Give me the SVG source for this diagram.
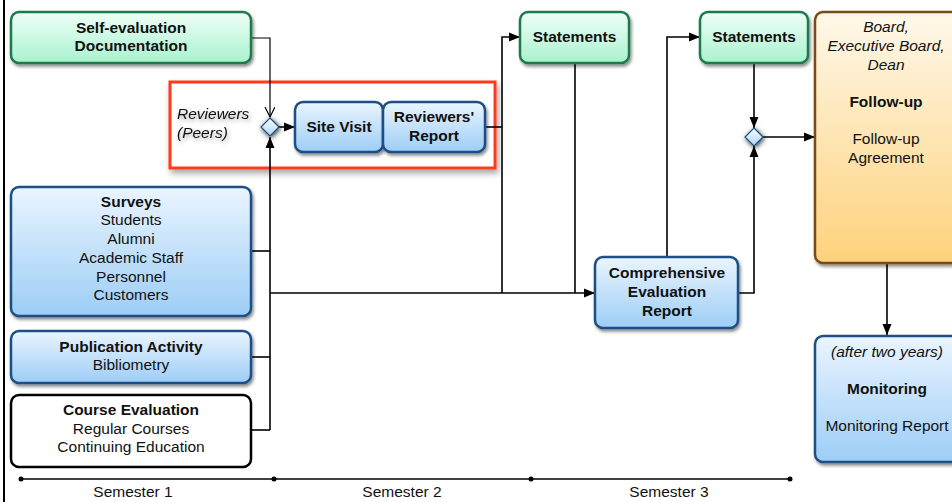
<svg xmlns="http://www.w3.org/2000/svg" width="952" height="502" viewBox="0 0 952 502">
<defs>
<linearGradient id="gGreen" x1="0" y1="0" x2="0" y2="1"><stop offset="0" stop-color="#effff7"/><stop offset="1" stop-color="#a9f2cf"/></linearGradient>
<linearGradient id="gBlue" x1="0" y1="0" x2="0" y2="1"><stop offset="0" stop-color="#eaf5ff"/><stop offset="1" stop-color="#9dcdf6"/></linearGradient>
<linearGradient id="gOrange" x1="0" y1="0" x2="0" y2="1"><stop offset="0" stop-color="#fff8ea"/><stop offset="1" stop-color="#fdd27c"/></linearGradient>
<linearGradient id="gDia" x1="0" y1="0" x2="0" y2="1"><stop offset="0" stop-color="#ffffff"/><stop offset="1" stop-color="#a9d3f7"/></linearGradient>
<filter id="sh" x="-20%" y="-20%" width="140%" height="150%"><feDropShadow dx="1.5" dy="2.5" stdDeviation="1.6" flood-color="#000" flood-opacity="0.45"/></filter>
<filter id="shRed" x="-10%" y="-20%" width="120%" height="150%"><feDropShadow dx="2" dy="4" stdDeviation="3" flood-color="#000" flood-opacity="0.35"/></filter>
<filter id="shDia" x="-100%" y="-100%" width="300%" height="300%"><feDropShadow dx="1" dy="1.5" stdDeviation="2.5" flood-color="#000" flood-opacity="0.8"/></filter>
<filter id="shText" x="-20%" y="-30%" width="140%" height="160%"><feDropShadow dx="1.5" dy="2.5" stdDeviation="2" flood-color="#000" flood-opacity="0.35"/></filter>
<marker id="arr" markerUnits="userSpaceOnUse" markerWidth="12" markerHeight="10" refX="11" refY="5" orient="auto"><path d="M0,0.5 L11,5 L0,9.5 z" fill="#000"/></marker>
<marker id="arrOpen" markerUnits="userSpaceOnUse" markerWidth="12" markerHeight="12" refX="10" refY="5" orient="auto"><path d="M0,0 L10,5 L0,10" fill="none" stroke="#000" stroke-width="1.2"/></marker>
</defs>
<style>
text{font-family:"Liberation Sans",Arial,sans-serif;font-size:15.5px;fill:#111;text-anchor:middle}
.b{font-weight:bold}
.i{font-style:italic}
.green{fill:url(#gGreen);stroke:#1d7a4c;stroke-width:2.5}
.blue{fill:url(#gBlue);stroke:#1b4f86;stroke-width:2.5}
.orange{fill:url(#gOrange);stroke:#7a4c14;stroke-width:2.5}
.white{fill:#fff;stroke:#000;stroke-width:2.5}
.c{fill:none;stroke:#000;stroke-width:1.6}
.ct{fill:none;stroke:#000;stroke-width:1.2}
</style>
<rect width="952" height="502" fill="#fff"/>
<line x1="4" y1="0" x2="4" y2="502" stroke="#000" stroke-width="2"/>

<g id="reviewers-group">
<rect x="170" y="82" width="325" height="86" fill="#fff" stroke="#ff3b1d" stroke-width="3" filter="url(#shRed)"/>
<g filter="url(#shText)">
<text class="i" x="177" y="119" style="text-anchor:start">Reviewers</text>
<text class="i" x="177" y="138" style="text-anchor:start">(Peers)</text>
</g>
</g>

<g id="connectors">
<path class="ct" d="M251,38 H270 V117" marker-end="url(#arrOpen)"/>
<path class="c" d="M270,430 V137" marker-end="url(#arr)"/>
<path class="c" d="M251,251 H270"/>
<path class="c" d="M251,357 H270"/>
<path class="c" d="M251,430 H270"/>
<path class="c" d="M270,293 H595" marker-end="url(#arr)"/>
<path class="c" d="M279,127 H295" marker-end="url(#arr)"/>
<path class="c" d="M485,127 H502"/>
<path class="c" d="M502,293 V37 H520" marker-end="url(#arr)"/>
<path class="c" d="M575,63 V293"/>
<path class="c" d="M667,257 V37 H700" marker-end="url(#arr)"/>
<path class="c" d="M738,293 H754 V146" marker-end="url(#arr)"/>
<path class="c" d="M754,63 V128" marker-end="url(#arr)"/>
<path class="c" d="M763,137 H815" marker-end="url(#arr)"/>
<path class="c" d="M887,263 V335" marker-end="url(#arr)"/>
</g>

<g id="self-evaluation">
<rect class="green" x="11" y="12" width="240" height="51" rx="8" filter="url(#sh)"/>
<text class="b" x="131" y="33">Self-evaluation</text>
<text class="b" x="131" y="51">Documentation</text>
</g>

<g id="diamond1">
<path d="M270,118 L279,127 L270,136 L261,127 z" fill="url(#gDia)" stroke="#1b4f86" stroke-width="1.2" filter="url(#shDia)"/>
</g>

<g id="site-visit">
<rect class="blue" x="295" y="102" width="88" height="50" rx="8" filter="url(#sh)"/>
<text class="b" x="339" y="132">Site Visit</text>
</g>

<g id="reviewers-report">
<rect class="blue" x="383" y="102" width="102" height="50" rx="8" filter="url(#sh)"/>
<text class="b" x="434" y="122">Reviewers'</text>
<text class="b" x="434" y="141">Report</text>
</g>

<g id="statements1">
<rect class="green" x="520" y="12" width="109" height="51" rx="8" filter="url(#sh)"/>
<text class="b" x="574.5" y="42">Statements</text>
</g>

<g id="statements2">
<rect class="green" x="700" y="12" width="108" height="51" rx="8" filter="url(#sh)"/>
<text class="b" x="754" y="42">Statements</text>
</g>

<g id="diamond2">
<path d="M754,128 L763,137 L754,146 L745,137 z" fill="url(#gDia)" stroke="#1b4f86" stroke-width="1.2" filter="url(#shDia)"/>
</g>

<g id="follow-up">
<rect class="orange" x="815" y="12" width="145" height="251" rx="8" filter="url(#sh)"/>
<text class="i" x="886" y="32">Board,</text>
<text class="i" x="886" y="51">Executive Board,</text>
<text class="i" x="886" y="70">Dean</text>
<text class="b" x="886" y="107">Follow-up</text>
<text x="886" y="144">Follow-up</text>
<text x="886" y="163">Agreement</text>
</g>

<g id="comprehensive">
<rect class="blue" x="595" y="257" width="143" height="71" rx="8" filter="url(#sh)"/>
<text class="b" x="667" y="278">Comprehensive</text>
<text class="b" x="667" y="297">Evaluation</text>
<text class="b" x="667" y="316">Report</text>
</g>

<g id="monitoring">
<rect class="blue" x="815" y="336" width="145" height="126" rx="8" filter="url(#sh)"/>
<text class="i" x="887" y="357">(after two years)</text>
<text class="b" x="887" y="394">Monitoring</text>
<text x="887" y="431">Monitoring Report</text>
</g>

<g id="surveys">
<rect class="blue" x="11" y="187" width="240" height="129" rx="8" filter="url(#sh)"/>
<text class="b" x="131" y="207">Surveys</text>
<text x="131" y="225">Students</text>
<text x="131" y="244">Alumni</text>
<text x="131" y="263">Academic Staff</text>
<text x="131" y="282">Personnel</text>
<text x="131" y="300">Customers</text>
</g>

<g id="publication">
<rect class="blue" x="11" y="331" width="240" height="52" rx="8" filter="url(#sh)"/>
<text class="b" x="131" y="352">Publication Activity</text>
<text x="131" y="370">Bibliometry</text>
</g>

<g id="course-evaluation">
<rect class="white" x="11" y="395" width="240" height="72" rx="8"/>
<text class="b" x="131" y="415">Course Evaluation</text>
<text x="131" y="434">Regular Courses</text>
<text x="131" y="452">Continuing Education</text>
</g>

<g id="timeline">
<line x1="21" y1="479" x2="790" y2="479" stroke="#000" stroke-width="1.5"/>
<circle cx="21" cy="479" r="2.5"/>
<circle cx="274" cy="479" r="2.5"/>
<circle cx="531" cy="479" r="2.5"/>
<circle cx="790" cy="479" r="2.5"/>
<text x="133" y="497">Semester 1</text>
<text x="402" y="497">Semester 2</text>
<text x="669" y="497">Semester 3</text>
</g>
</svg>
